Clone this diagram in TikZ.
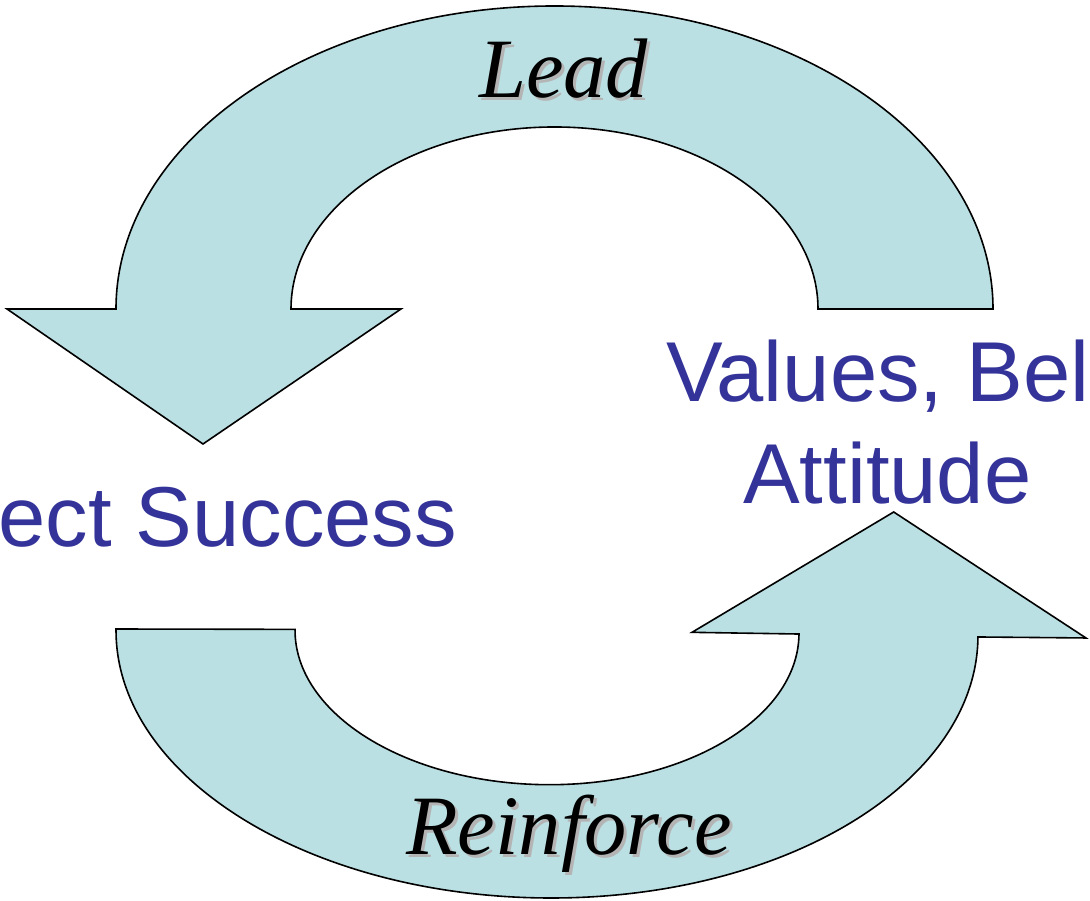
\documentclass[tikz,border=0pt]{standalone}
\usepackage{fontspec}
\setmainfont{Liberation Serif}
\newfontfamily\labelfont{Liberation Sans}
\definecolor{arrowblue}{HTML}{BBE0E3}
\definecolor{textblue}{HTML}{333399}
\definecolor{shadowgray}{HTML}{B4B4B4}
\begin{document}
\begin{tikzpicture}[x=1pt,y=1pt,
  arrowshape/.style={fill=arrowblue, draw=black, line width=1.6pt, line join=miter},
  bigtext/.style={inner sep=0pt, text=textblue, font=\labelfont\fontsize{85}{100}\selectfont},
  verbtext/.style={inner sep=0pt, font=\itshape\fontsize{84.5}{96}\selectfont},
  shadowtext/.style={verbtext, text=shadowgray}]
\clip (0,0) rectangle (1090,901);
\fill[white] (0,0) rectangle (1090,901);
% top arrow (Lead)
\draw[arrowshape] (116,592) arc[start angle=180, end angle=0, x radius=438.5, y radius=303]
  -- (818,592) arc[start angle=0, end angle=180, x radius=263.5, y radius=182]
  -- (401,592) -- (203,457) -- (7,592) -- cycle;
% bottom arrow (Reinforce)
\begin{scope}[shift={(547,268)}, rotate=-0.53]
\draw[arrowshape] (-431,0) arc[start angle=180, end angle=360, x radius=431, y radius=265]
  -- (539,0) -- (345.6,124.2) -- (145,2) -- (252,1.3)
  arc[start angle=0, end angle=-180, x radius=252, y radius=153] -- cycle;
\end{scope}
% labels
\node[shadowtext, anchor=base west] (leadshadow) at (482,800) {Lead};
\node[verbtext, anchor=base west] (lead) at (479,803) {Lead};
\node[shadowtext, anchor=base west] (reinfshadow) at (409,43) {Reinforce};
\node[verbtext, anchor=base west] (reinf) at (406,46) {Reinforce};
\node[bigtext, anchor=base west] (success) at (-1.5,354) {ect Success};
\node[bigtext, anchor=base west] (values) at (666,499) {Values, Bel};
\node[bigtext, anchor=base west] (attitude) at (743,397) {Attitude};
\end{tikzpicture}
\end{document}
